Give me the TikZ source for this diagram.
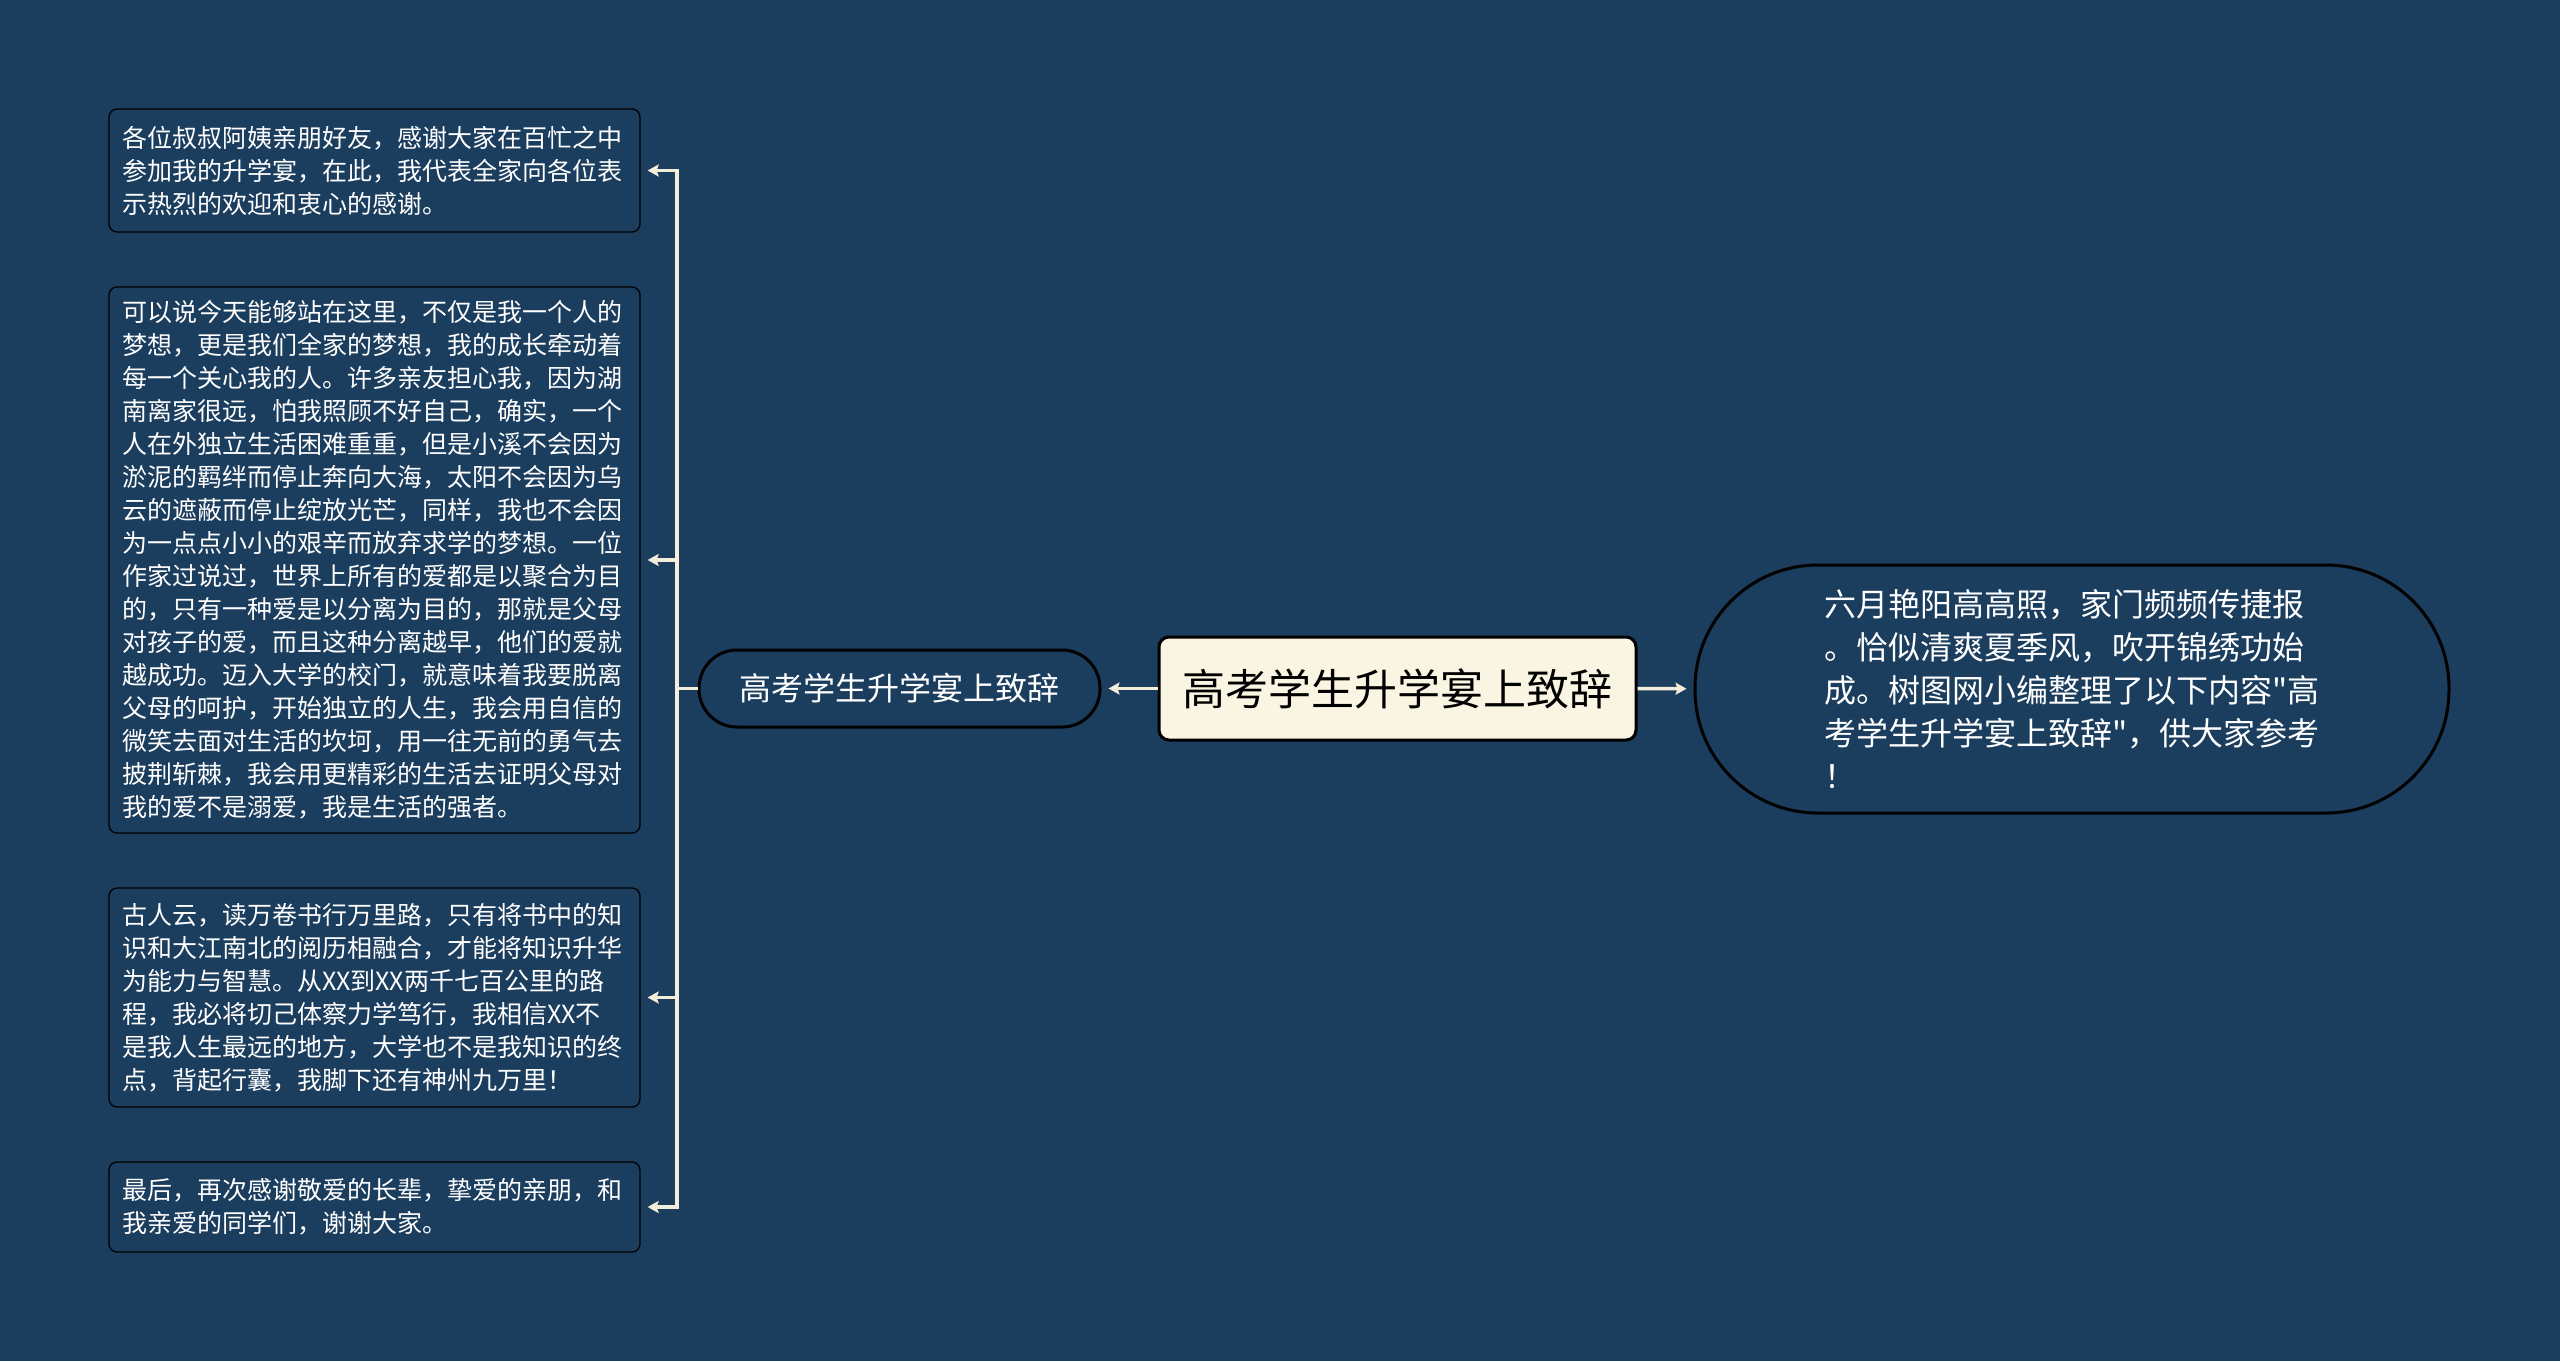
\documentclass[tikz,border=0pt]{standalone}
\usepackage{fontspec}
\setmainfont{Noto Sans CJK SC}
\newfontfamily\quotefont{Noto Sans CJK SC}
\usepackage{tikz}
\usetikzlibrary{arrows.meta}
\definecolor{bgblue}{HTML}{1B3D5E}
\definecolor{cream}{HTML}{FAF5E3}
\definecolor{wire}{HTML}{F3EEDC}
\newcommand{\dq}{{\quotefont\char34}}

\begin{document}
\begin{tikzpicture}[x=1pt,y=-1pt,
	txtbox/.style={draw=black, line width=1.3pt, fill=bgblue, rounded corners=8pt, text=white, align=left, text width=505pt, inner xsep=13pt, inner ysep=0pt, font=\fontsize{25}{33}\selectfont},
	pill/.style={draw=black, line width=3pt, fill=bgblue, text=white, inner sep=0pt},
	link/.style={wire, line width=3.5pt},
	tip/.style={-{Stealth[length=11pt,width=12pt,inset=2pt]}, shorten >=7pt}]
			\fill[bgblue] (0,0) rectangle (2560,1361);
			\useasboundingbox (0,0) rectangle (2560,1361);
			
			\node[draw=black, line width=3pt, fill=cream, rounded corners=10pt, minimum width=477pt, minimum height=103pt, font=\fontsize{43}{50}\selectfont] (root) at (1397.5,688.5) {高考学生升学宴上致辞};
			\node[pill, rounded corners=38pt, minimum width=401pt, minimum height=77pt, font=\fontsize{32}{40}\selectfont] (sub) at (899.5,688.5) {高考学生升学宴上致辞};
			\node[pill, rounded corners=123pt, minimum width=754pt, minimum height=248pt, align=left, text width=496pt, font=\fontsize{32}{43}\selectfont] (intro) at (2072,689) {六月艳阳高高照，家门频频传捷报\\。恰似清爽夏季风，吹开锦绣功始\\成。树图网小编整理了以下内容\dq 高\\考学生升学宴上致辞\dq ，供大家参考\\！};
			
			\node[txtbox, minimum height=123pt] (p1) at (374.5,170.5) {各位叔叔阿姨亲朋好友，感谢大家在百忙之中\\参加我的升学宴，在此，我代表全家向各位表\\示热烈的欢迎和衷心的感谢。};
			\node[txtbox, minimum height=546pt] (p2) at (374.5,560) {可以说今天能够站在这里，不仅是我一个人的\\梦想，更是我们全家的梦想，我的成长牵动着\\每一个关心我的人。许多亲友担心我，因为湖\\南离家很远，怕我照顾不好自己，确实，一个\\人在外独立生活困难重重，但是小溪不会因为\\淤泥的羁绊而停止奔向大海，太阳不会因为乌\\云的遮蔽而停止绽放光芒，同样，我也不会因\\为一点点小小的艰辛而放弃求学的梦想。一位\\作家过说过，世界上所有的爱都是以聚合为目\\的，只有一种爱是以分离为目的，那就是父母\\对孩子的爱，而且这种分离越早，他们的爱就\\越成功。迈入大学的校门，就意味着我要脱离\\父母的呵护，开始独立的人生，我会用自信的\\微笑去面对生活的坎坷，用一往无前的勇气去\\披荆斩棘，我会用更精彩的生活去证明父母对\\我的爱不是溺爱，我是生活的强者。};
			\node[txtbox, minimum height=219pt] (p3) at (374.5,997.5) {古人云，读万卷书行万里路，只有将书中的知\\识和大江南北的阅历相融合，才能将知识升华\\为能力与智慧。从XX到XX两千七百公里的路\\程，我必将切己体察力学笃行，我相信XX不\\是我人生最远的地方，大学也不是我知识的终\\点，背起行囊，我脚下还有神州九万里！};
			\node[txtbox, minimum height=90pt] (p4) at (374.5,1207) {最后，再次感谢敬爱的长辈，挚爱的亲朋，和\\我亲爱的同学们，谢谢大家。};
			
			\coordinate (spine) at (677,688.5);
			
			\path [link, tip] (root) edge (sub);
			\path [link, tip] (root) edge (intro);
			\draw [link] (sub.west) -- (spine);
			\draw [link, tip] (spine) |- (p1.east);
			\draw [link, tip] (spine) |- (p2.east);
			\draw [link, tip] (spine) |- (p3.east);
			\draw [link, tip] (spine) |- (p4.east);
\end{tikzpicture}
\end{document}
